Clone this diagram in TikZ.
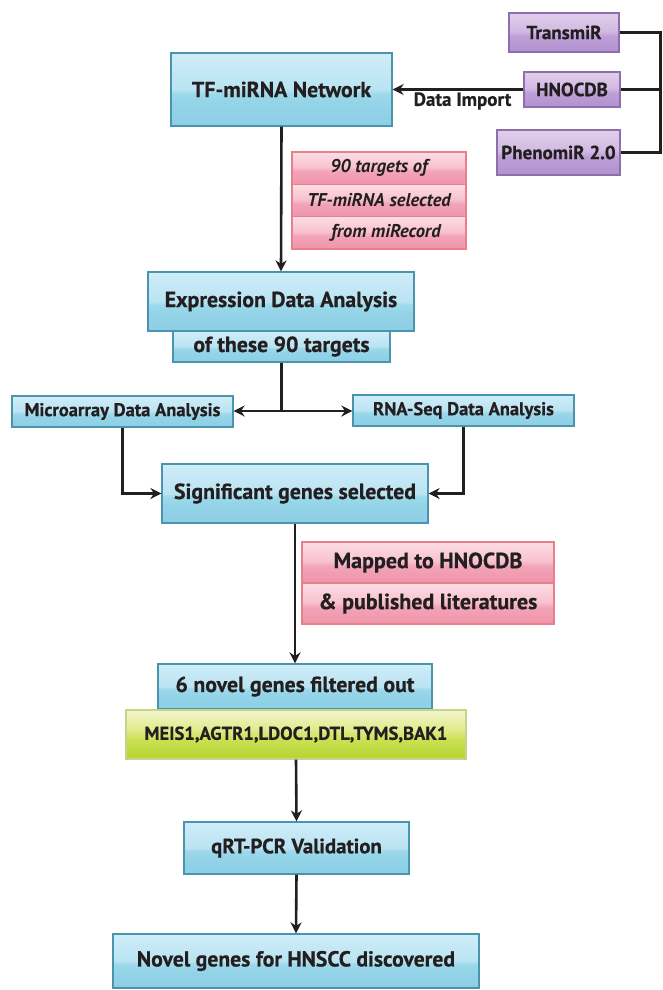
\documentclass[tikz,border=0pt]{standalone}
\usepackage{fontspec}
\setmainfont{PT Sans}[BoldFeatures={FakeBold=0.6}]
\usetikzlibrary{arrows.meta,calc}
\definecolor{txt}{HTML}{231F20}
\definecolor{blueline}{HTML}{4A94AD}
\definecolor{pinkline}{HTML}{E8808A}
\definecolor{purpline}{HTML}{8D6FAE}
\definecolor{greenline}{HTML}{C5D68C}
\pgfdeclareverticalshading{glossblue}{100bp}{%
  rgb(0bp)=(0.55,0.81,0.90); rgb(25bp)=(0.55,0.81,0.90); rgb(40bp)=(0.58,0.83,0.91);
  rgb(47bp)=(0.61,0.85,0.92); rgb(50bp)=(0.73,0.89,0.95); rgb(75bp)=(0.81,0.93,0.97); rgb(100bp)=(0.81,0.93,0.97)}
\pgfdeclareverticalshading{glosspink}{100bp}{%
  rgb(0bp)=(0.94,0.58,0.67); rgb(25bp)=(0.94,0.58,0.67); rgb(45bp)=(0.95,0.64,0.72);
  rgb(52bp)=(0.97,0.76,0.81); rgb(75bp)=(0.99,0.87,0.90); rgb(100bp)=(0.99,0.87,0.90)}
\pgfdeclareverticalshading{glosspurple}{100bp}{%
  rgb(0bp)=(0.70,0.57,0.81); rgb(25bp)=(0.70,0.57,0.81); rgb(45bp)=(0.74,0.62,0.84);
  rgb(52bp)=(0.82,0.73,0.89); rgb(75bp)=(0.88,0.81,0.92); rgb(100bp)=(0.88,0.81,0.92)}
\pgfdeclareverticalshading{glossgreen}{100bp}{%
  rgb(0bp)=(0.71,0.83,0.20); rgb(25bp)=(0.71,0.83,0.20); rgb(45bp)=(0.80,0.88,0.32);
  rgb(55bp)=(0.88,0.92,0.55); rgb(75bp)=(0.95,0.96,0.80); rgb(100bp)=(0.95,0.96,0.80)}
\newcommand{\fsz}[1]{\bfseries\fontsize{#1}{#1}\selectfont}
\tikzset{
  base/.style={line width=1.2pt, inner sep=0pt, text=txt, align=center},
  bluebox/.style={base, draw=blueline, shading=glossblue, font=\fsz{21.8}},
  smallblue/.style={bluebox, font=\fsz{18.5}},
  pinkrow/.style={base, draw=pinkline, shading=glosspink, font=\fsz{18.5}\itshape},
  pinkbig/.style={base, draw=pinkline, shading=glosspink, font=\fsz{22}},
  purpbox/.style={base, draw=purpline, shading=glosspurple, font=\fsz{19}},
  greenbox/.style={base, draw=greenline, shading=glossgreen, font=\fsz{18.6}},
  conn/.style={draw=txt, line width=2.6pt},
  arr/.style={conn, -{Stealth[length=11pt,width=11pt,inset=3.5pt]}},
  lbl/.style={text=txt, font=\fsz{19}, inner sep=0pt}
}
\begin{document}
\begin{tikzpicture}[x=1pt,y=-1pt]
\useasboundingbox (0,0) rectangle (662,990);
\fill[white] (0,0) rectangle (662,990);
% top
\node[bluebox, minimum width=221, minimum height=73] (tf) at (281.5,89.5) {TF-miRNA Network};
\node[purpbox, minimum width=110, minimum height=39] (transmir) at (564,32.5) {TransmiR};
\node[purpbox, minimum width=96, minimum height=35] (hnocdb) at (572,89.5) {HNOCDB};
\node[purpbox, minimum width=123, minimum height=45] (phenomir) at (558.5,152.5) {PhenomiR 2.0};
\path (phenomir.east) ++(40,0) coordinate (brB);
\draw[conn] (transmir.east) -| (brB) -- (phenomir.east);
\draw[conn] (hnocdb.east) -- (hnocdb.east -| brB);
\draw[arr] (hnocdb.west) -- (tf.east);
\node[lbl] (dataimp) at (462.5,101) {Data Import};
% pink 1
\node[pinkrow, minimum width=174, minimum height=32.3] (pka) at (379,168.2) {90 targets of};
\node[pinkrow, minimum width=174, minimum height=32.3] (pkb) at (379,200.5) {TF-miRNA selected};
\node[pinkrow, minimum width=174, minimum height=32.3] (pkc) at (379,232.8) {\hspace{14pt}from miRecord};
% expression
\node[bluebox, minimum width=217, minimum height=31] (sub) at (281.5,346.5) {of these 90 targets};
\node[bluebox, minimum width=266, minimum height=59] (expr) at (281,301.5) {Expression Data Analysis};
\draw[arr] (tf.south) -- (expr.north);
\node[smallblue, minimum width=221, minimum height=31] (micro) at (122.5,411.5) {Microarray Data Analysis};
\node[smallblue, minimum width=221, minimum height=31] (rna) at (463.5,410.5) {RNA-Seq Data Analysis};
\coordinate (jn) at (281.5,411);
\draw[conn] (sub.south) -- (jn);
\draw[arr] (jn) -- (jn -| micro.east);
\draw[arr] (jn) -- (jn -| rna.west);
\node[bluebox, minimum width=266, minimum height=59] (sig) at (295,493.5) {Significant genes selected};
\draw[arr] (micro.south) |- (sig.west);
\draw[arr] (rna.south) |- (sig.east);
% pink 2
\node[pinkbig, minimum width=252, minimum height=41] (mpa) at (428,562.5) {Mapped to HNOCDB};
\node[pinkbig, minimum width=252, minimum height=41] (mpb) at (428,603.5) {\& published literatures};
% bottom
\node[bluebox, minimum width=274, minimum height=45] (six) at (295,686.5) {6 novel genes filtered out};
\node[greenbox, minimum width=340, minimum height=49] (green) at (296,734.5) {MEIS1,AGTR1,LDOC1,DTL,TYMS,BAK1};
\draw[arr] (sig.south) -- (six.north);
\node[bluebox, minimum width=225, minimum height=52, font=\fsz{20.8}] (qrt) at (296.5,848) {qRT-PCR Validation};
\node[bluebox, minimum width=366, minimum height=54, font=\fsz{21.7}] (novel) at (296,961) {Novel genes for HNSCC discovered};
\draw[arr] (green.south) -- (qrt.north);
\draw[arr] (qrt.south) -- (novel.north);
\end{tikzpicture}
\end{document}
